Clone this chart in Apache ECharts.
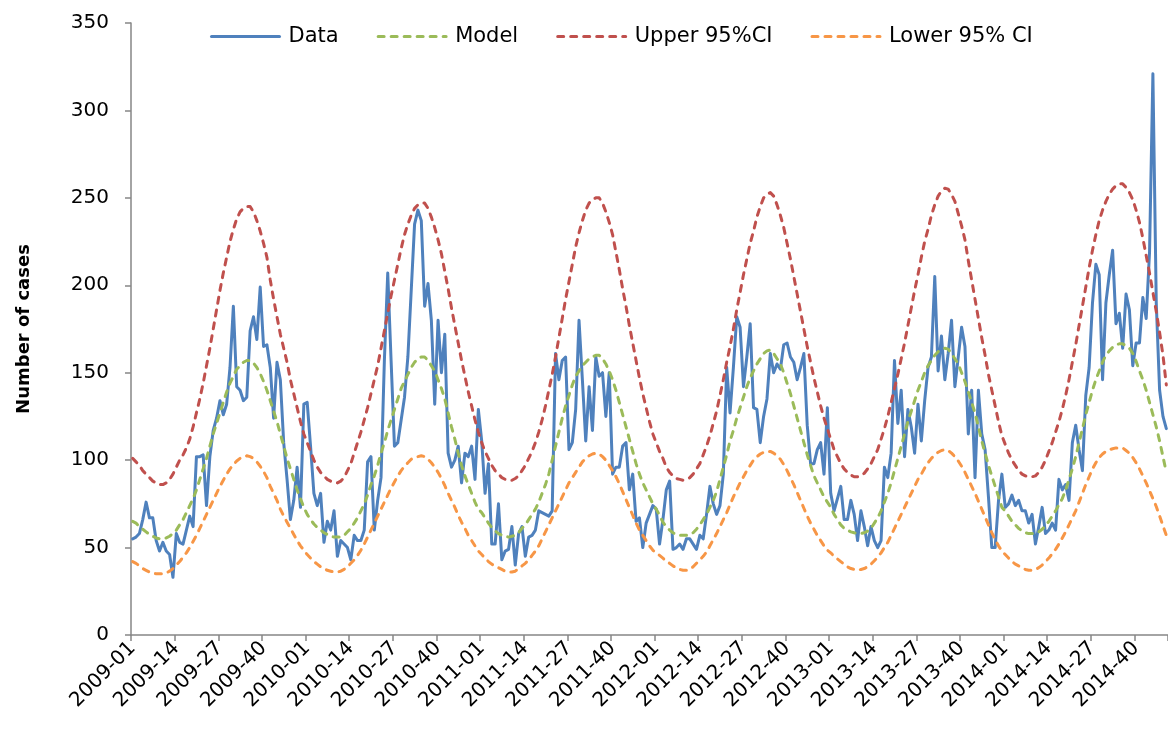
<!DOCTYPE html>
<html>
<head>
<meta charset="utf-8">
<script src="https://cdn.jsdelivr.net/npm/echarts@6/dist/echarts.min.js"></script>
<style>
  html, body { margin: 0; padding: 0; background: #fff; }
  #chart { width: 1168px; height: 731px; }
</style>
</head>
<body>
<div id="chart"></div>
<script>
// weekly categories 2009-01 .. 2014-49 (52 weeks per year, last weeks cut off at the right edge)
const years = [2009, 2010, 2011, 2012, 2013, 2014]
const weeksPerYear = 52
const lastWeekShown = 49
const weeks = []
years.forEach(y => {
  const n = y === 2014 ? lastWeekShown : weeksPerYear
  for (let w = 1; w <= n; w++) weeks.push(y + '-' + String(w).padStart(2, '0'))
})

// observed weekly cases
const cases = [
  55,56,58,66,76,67,67,54,48,53, 48,46,33,58,53,52,60,68,62,102, 102,103,74,102,117,124,134,126,132,153, 188,142,140,134,136,174,182,169,199,165, 166,153,124,156,146,110,89,66,77,96, 73,132,
  133,108,81,74,81,53,65,60,71,45, 54,52,50,43,57,54,54,60,99,102, 60,77,90,157,207,157,108,110,123,136, 159,197,235,243,237,188,201,180,132,180, 150,172,104,96,100,108,87,104,102,108, 89,129,
  111,81,98,52,52,75,43,48,49,62, 40,58,62,45,56,57,60,71,70,69, 68,71,161,146,157,159,106,110,129,180, 146,111,142,117,159,148,150,125,150,92, 96,96,108,110,83,92,65,67,50,64, 69,74,
  72,52,66,83,88,49,50,52,49,55, 55,52,49,57,55,69,85,75,69,74, 92,153,127,153,182,176,142,159,178,130, 129,110,125,135,161,150,155,152,166,167, 159,156,146,153,161,120,98,98,106,110, 92,130,
  81,71,78,85,66,66,77,69,54,71, 62,51,62,54,50,54,96,90,104,157, 121,140,102,129,119,104,132,111,134,153, 159,205,151,171,146,161,180,142,159,176, 165,115,140,90,140,115,106,79,50,50, 77,92,
  73,75,80,74,77,71,71,64,69,52, 62,73,58,60,64,60,89,83,86,77, 110,120,106,94,137,153,190,212,206,146, 190,206,220,178,184,164,195,186,154,167, 167,193,181,219,321,190,140,125,118
]

// fitted model
const model = [
  65,64,62,60.5,59,57.5,56.5,55.5,55,55, 55.5,56.5,58,60,63,66,70,74,78,83, 89,95,101,108,115,121,127,133,139,144, 148,152,154,156,157,157,155.5,153,149.5,145, 140,134,128,122,115,108,101,95,89,83, 78,73,
  69,66,63.5,61.5,60,58.5,57.5,56.5,56,56, 56,57,59,61,64,67,71,75,80,86, 91,97,104,110,117,123,129,135,141,145, 149,153,156,158,159,159,157,154,151,146, 141,135,127,119,112,104,97,91,86,81, 76,72,
  70,67,64,61.5,59.5,58,57,56.5,56,56.5, 57,58.5,61,63,66,69,72,76,81,86, 92,100,108,116,124,131,137,143,148,151, 154,156,158,159,160,160,158,155,151,146, 140,133,126,119,112,105,98,92,87,83, 79,75,
  72,68.5,64.5,62,60,58.5,57.5,57,57,57, 57.5,58.5,60.5,63,66,69,73,77,82,89, 96,103,111,117,124,130,136,142,147,151, 155,158,161,162.5,163,161,158,155,150,144, 138,131,124,117,110,103,97,91,87,83, 79,76,
  73,69,66,63,61,60,59,58.5,58,58, 58.5,59.5,61,64,67,71,76,81,87,94, 101,108,115,122,128,134,140,145,150,154, 157,160,162,163.5,164,163.5,161,158,155,150, 145,139,133,127,119,111,104,97,91,85, 79,73,
  71,68,65,63,61,59.5,58.5,58,58,58, 59,60.5,62.5,65,68,71,74.5,78,83,89, 95,102,110,118,126,133,140,146,151,156, 160,162.5,164.5,166,166.5,166.5,165.5,164,161,156.5, 151,146,140,133,126,119,111,102,93
]

// upper 95% confidence limit
const upper95 = [
  101,99,97,94,92,90,88,87,86,86, 87,89,92,96,100,103,107,112,119,127, 135,144,154,164,175,186,197,207,216,225, 232,238,242,244,245,245,242,237,231,224, 216,203,192,182,172,164,156,146,138,130, 122,115,
  110,105,100,96,93,91,89,88,87.5,87, 88,90,94,98,104,110,116,123,130,138, 146,154,164,174,184,194,203,212,221,229, 235,240,244,246,247,247,244,239,233,226, 218,208,198,187,177,167,157,148,139,131, 123,116,
  110,105,101,97,94,92,90,89,88.5,88.5, 89.5,91,94,97,101,105,110,116,123,131, 140,149,159,170,181,192,202,212,222,230, 237,243,247,249,250,250,247,242,236,229, 219,209,198,188,177,167,157,147,138,130, 122,115,
  110,105,101,96,93,91,89.5,89,88.5,89, 90,92,95,98,103,108,114,121,128,137, 146,156,165,175,186,196,206,215,224,231, 239,245,250,252,253,251,246,240,233,224, 215,205,195,185,175,165,156,147,139,131, 124,118,
  112,106,102,98,95,93,91.5,90.5,90.5,91, 92.5,95,98,102,106,112,118,125,133,141, 149,158,167,177,187,197,206,216,225,232, 240,246,251,254,255.5,255,252,248,241,234, 226,214,203,192,181,170,160,149,140,131, 122,114,
  109,104,100,97,94,92,91,90.5,90.5,91, 93,96,100,105,110,116,122,129,137,146, 156,166,177,188,199,210,220,229,237,243, 248,252,255,257,258,258,256,253,249,243, 236,227,217,207,196,185,173,160,143
]

// lower 95% confidence limit
const lower95 = [
  42,41,39.5,38,37,36,35.5,35,35,35, 35.5,36.5,38,40,42,44.5,47,50,53.5,57, 61,65,69,73,77,81,85,88.5,92,95, 97.5,99.5,101,102,102.5,102,101,99,96.5,93.5, 90,85,81,77,72,68,64.5,61,57.5,54, 51,48.5,
  46,44,42,40.5,39,38,37,36.5,36,36, 36.5,37.5,39,41,43,45.5,48.5,52,56,60, 64,68,72,76,80,84,87.5,91,94,96.5, 98.5,100.5,101.5,102,102.5,102,100.5,98.5,96,93, 89.5,85.5,81,77,73,68.5,64.5,61,57,54, 51,48,
  46,44,42,40.5,39.5,38.5,37.5,36.5,36,36, 36.5,38,39.5,41,43,45.5,48,51,55,59, 63,67,71,75,79,83,87,90,93,96, 99,101,102.5,103.5,104,103.5,102,100,97,94, 90.5,86.5,82,77.5,73,68.5,64,60,57,54, 51,48.5,
  47,45.5,44,42,41,39.5,38.5,37.5,37,37, 37.5,39,41,43,45,47.5,51,54.5,58,62, 66,70,74.5,79,83,87,90.5,94,97,100, 102,103.5,104.5,105,105,104,102.5,100.5,97.5,94, 90,86,81.5,77,72.5,68,64,60.5,57,54, 51,48.5,
  47,45,43.5,42,40.5,39,38,37.5,37,37.5, 38,39,40.5,42.5,44.5,47,50,53,57,61, 65,69,73,77,81,85,89,92,95.5,98.5, 101,103,104.5,105.5,106,105.5,104,102,99.5,96.5, 93,89,85,81,76.5,72,67.5,63,58.5,54.5, 51,48,
  46,44,42,40.5,39.5,38.5,37.5,37,37,37.5, 38.5,40,42,44,46.5,49,52,55.5,59,63, 67,71,76,81,86,90.5,95,98.5,101.5,103.5, 105,106,106.5,107,107,107,105.5,104,101.5,98.5, 95,91,87,82.5,78,73.5,68,62.5,57
]

const FONT = 'DejaVu Sans'
const AXIS_GREY = '#868686'
const dash = [6, 7]

function lineSeries(name, data, color, type) {
  return {
    name, type: 'line', data,
    symbol: 'none', smooth: false,
    lineStyle: { color, width: 3, type, cap: 'round', join: 'round' },
    itemStyle: { color },
    emphasis: { disabled: true },
  }
}

const chart = echarts.init(document.getElementById('chart'), null, { renderer: 'canvas' })
chart.setOption({
  animation: false,
  textStyle: { fontFamily: FONT, color: '#000' },
  legend: {
    top: 21, left: 205,
    itemWidth: 68, itemHeight: 14, itemGap: 38,
    itemStyle: { opacity: 0 },
    lineStyle: { width: 3 },
    textStyle: { fontFamily: FONT, fontSize: 21, color: '#000', padding: [0, 0, 0, 4] },
    data: ['Data', 'Model', 'Upper 95%CI', 'Lower 95% CI'],
  },
  grid: { left: 131, right: 0, top: 23, bottom: 96, outerBoundsMode: 'none' },
  xAxis: {
    type: 'category', data: weeks, boundaryGap: true,
    axisLine: { lineStyle: { color: AXIS_GREY, width: 1.5 } },
    axisTick: { show: true, interval: 12, length: 6, lineStyle: { color: AXIS_GREY, width: 1.5 } },
    axisLabel: { interval: 12, rotate: 45, margin: 10, fontFamily: FONT, fontSize: 20, color: '#000' },
    splitLine: { show: false },
  },
  yAxis: {
    type: 'value', min: 0, max: 350, interval: 50,
    name: 'Number of cases', nameLocation: 'middle', nameGap: 98, nameRotate: 90,
    nameTextStyle: { fontFamily: FONT, fontSize: 18, fontWeight: 'bold', color: '#000' },
    axisLine: { show: true, lineStyle: { color: AXIS_GREY, width: 1.5 } },
    axisTick: { show: true, length: 6, lineStyle: { color: AXIS_GREY, width: 1.5 } },
    axisLabel: { margin: 22, align: 'right', fontFamily: FONT, fontSize: 20, color: '#000' },
    splitLine: { show: false },
  },
  series: [
    lineSeries('Data', cases, '#4F81BD', 'solid'),
    lineSeries('Model', model, '#9BBB59', dash),
    lineSeries('Upper 95%CI', upper95, '#C0504D', dash),
    lineSeries('Lower 95% CI', lower95, '#F79646', dash),
  ],
})
</script>
</body>
</html>
